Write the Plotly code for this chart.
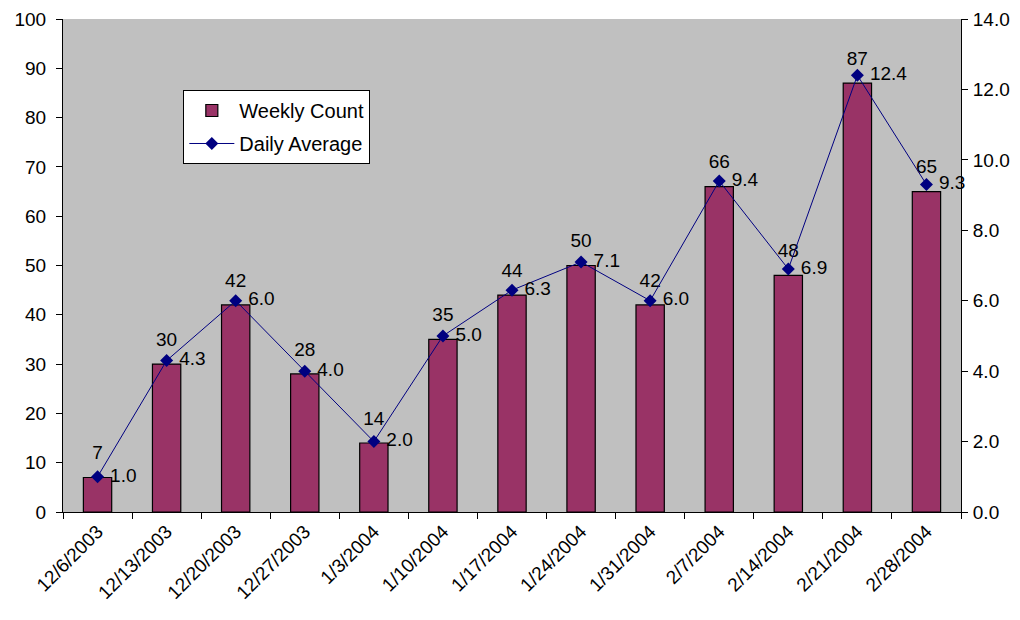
import plotly.graph_objects as go

dates = ["12/6/2003", "12/13/2003", "12/20/2003", "12/27/2003", "1/3/2004",
         "1/10/2004", "1/17/2004", "1/24/2004", "1/31/2004", "2/7/2004",
         "2/14/2004", "2/21/2004", "2/28/2004"]
weekly_count = [7, 30, 42, 28, 14, 35, 44, 50, 42, 66, 48, 87, 65]
daily_average = [1.0, 4.3, 6.0, 4.0, 2.0, 5.0, 6.3, 7.1, 6.0, 9.4, 6.9, 12.4, 9.3]

FONT = "Liberation Sans, Arial, sans-serif"
FS = 19

fig = go.Figure()
fig.add_trace(go.Bar(
    x=dates, y=weekly_count, name="Weekly Count",
    marker=dict(color="#993366", line=dict(color="black", width=1.2)),
    legendgroup="a",
))
# value labels for bars (placed above bar tops)
fig.add_trace(go.Scatter(
    x=dates, y=weekly_count, mode="markers+text", showlegend=False,
    marker=dict(size=20, opacity=0), hoverinfo="skip",
    text=[str(v) for v in weekly_count], textposition="top center",
    textfont=dict(family=FONT, size=FS, color="black"),
    cliponaxis=False,
))
fig.add_trace(go.Scatter(
    x=dates, y=daily_average, name="Daily Average", yaxis="y2",
    mode="lines+markers+text", legendgroup="b",
    line=dict(color="#000080", width=1),
    marker=dict(symbol="diamond", size=10, color="#000080"),
    text=[f" {v:.1f}" for v in daily_average], textposition="middle right",
    textfont=dict(family=FONT, size=FS, color="black"),
    cliponaxis=False,
))

# page body has an 8px margin; compensate so the plot area sits at 63..961 x 19..512
fig.update_layout(
    width=1020, height=620,
    margin=dict(l=55, r=67, t=11, b=116, autoexpand=False),
    paper_bgcolor="white", plot_bgcolor="#c0c0c0",
    font=dict(family=FONT, size=FS, color="black"),
    bargap=0.59,
    showlegend=True,
    legend=dict(x=0.134, y=0.856, xanchor="left", yanchor="top",
                bgcolor="white", bordercolor="black", borderwidth=1,
                font=dict(family=FONT, size=20, color="black"),
                traceorder="grouped", tracegroupgap=4, itemwidth=45),
    xaxis=dict(type="category", range=[-0.5, len(dates) - 0.5],
               tickangle=-45, showgrid=False,
               showline=True, linecolor="black", linewidth=1,
               ticks="outside", tickson="boundaries", ticklen=6,
               tickcolor="black", tickfont=dict(size=19), automargin=False),
    yaxis=dict(range=[0, 100], dtick=10, showgrid=False, zeroline=False,
               showline=True, linecolor="black", linewidth=1,
               ticks="outside", ticklen=6, tickcolor="black", automargin=False,
               ticklabelstandoff=6),
    yaxis2=dict(range=[0, 14], dtick=2, tickformat=".1f", overlaying="y",
                side="right", showgrid=False, zeroline=False,
                showline=True, linecolor="black", linewidth=1,
                ticks="outside", ticklen=6, tickcolor="black", automargin=False,
                ticklabelstandoff=1),
)

fig.write_html("out.html")
